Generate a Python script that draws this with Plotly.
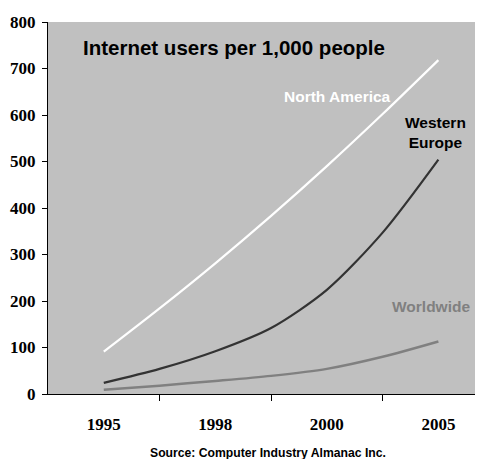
import plotly.graph_objects as go

# Data
x_index = [0, 1, 2, 3, 4, 5, 6]
north_america = [91, 184, 281, 383, 490, 602, 718]
western_europe = [24, 54, 92, 142, 224, 347, 504]
worldwide = [9, 18, 28, 39, 54, 80, 113]

tick_positions = [0, 2, 4, 6]
tick_labels = ["1995", "1998", "2000", "2005"]
minor_tick_positions = [1, 3, 5]
y_ticks = [0, 100, 200, 300, 400, 500, 600, 700, 800]

# the page body adds an 8px offset
PAGE_OFF = 8
FIG_W, FIG_H = 475, 451

fig = go.Figure()
fig.add_trace(go.Scatter(x=x_index, y=north_america, mode="lines",
                         line=dict(color="#FFFFFF", width=2.2, shape="spline", smoothing=0.8),
                         name="North America", hoverinfo="skip"))
fig.add_trace(go.Scatter(x=x_index, y=western_europe, mode="lines",
                         line=dict(color="#333333", width=2.2, shape="spline", smoothing=0.8),
                         name="Western Europe", hoverinfo="skip"))
fig.add_trace(go.Scatter(x=x_index, y=worldwide, mode="lines",
                         line=dict(color="#808080", width=2.5, shape="spline", smoothing=0.8),
                         name="Worldwide", hoverinfo="skip"))

fig.update_layout(
    width=FIG_W, height=FIG_H,
    margin=dict(l=40, r=0, t=14, b=FIG_H - 14 - 372, pad=0, autoexpand=False),
    paper_bgcolor="white",
    plot_bgcolor="#C0C0C0",
    showlegend=False,
    font=dict(family="Liberation Sans", color="black"),
)

fig.update_xaxes(
    range=[-1, 6.8], automargin=False,
    tickmode="array", tickvals=tick_positions, ticktext=tick_labels,
    ticks="", showgrid=False, zeroline=False,
    showline=True, linecolor="black", linewidth=1,
    tickfont=dict(family="Liberation Serif", size=17, color="black", weight="bold"),
    ticklabelstandoff=15,
    minor=dict(tickmode="array", tickvals=minor_tick_positions, ticks="outside",
               ticklen=6, tickcolor="black", tickwidth=1, showgrid=False),
)
fig.update_yaxes(
    range=[0, 800], automargin=False,
    tickmode="array", tickvals=y_ticks,
    ticks="outside", ticklen=5, tickcolor="black", tickwidth=1,
    showgrid=False, zeroline=False,
    showline=True, linecolor="black", linewidth=1,
    tickfont=dict(family="Liberation Serif", size=17, color="black", weight="bold"),
    ticklabelstandoff=3,
)

# label positions in window pixels (reference picture)
annotations = [
    dict(text="<b>Internet users per 1,000 people</b>", x=81, y=47.5, xanchor="left",
         font=dict(size=20.5, color="black")),
    dict(text="<b>North America</b>", x=337, y=96, xanchor="center",
         font=dict(size=15.5, color="white")),
    dict(text="<b>Western<br>Europe</b>", x=435.5, y=133, xanchor="center",
         font=dict(size=15.5, color="black")),
    dict(text="<b>Worldwide</b>", x=431, y=306.5, xanchor="center",
         font=dict(size=15.5, color="#808080")),
    dict(text="<b>Source: Computer Industry Almanac Inc.</b>", x=148, y=452.5, xanchor="left",
         font=dict(size=12.2, color="black")),
]
px_l, px_t = 40 + PAGE_OFF, 14 + PAGE_OFF
px_w, px_h = FIG_W - 40, 372
for a in annotations:
    fig.add_annotation(
        text=a["text"], xref="paper", yref="paper",
        x=(a["x"] - px_l) / px_w, y=1 - (a["y"] - px_t) / px_h,
        xanchor=a["xanchor"], yanchor="middle", showarrow=False,
        font=dict(family="Liberation Sans", **a["font"]), align="center",
    )

fig.write_html("out.html")
